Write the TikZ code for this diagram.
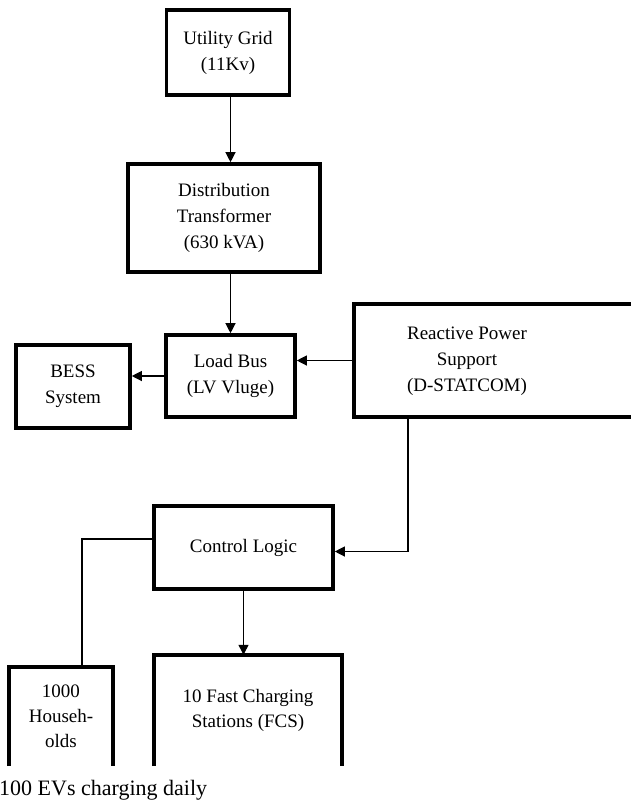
\documentclass[tikz,border=0pt]{standalone}
\usepackage{fontspec}
\setmainfont{Liberation Serif}
\usepackage{tikz}
\usetikzlibrary{arrows.meta}

\begin{document}
\begin{tikzpicture}
  [x=1pt,y=-1pt,
   box/.style={draw,line width=3.6pt,align=center,inner sep=0pt,
     font=\fontsize{19}{26}\selectfont},
   openbox/.style={align=center,inner sep=0pt,
     font=\fontsize{19}{25}\selectfont},
   arr/.style={line width=1.2pt,-{Triangle[length=10pt,width=10pt]}},
   wire/.style={line width=1.2pt}]
\useasboundingbox (0,0) rectangle (631,801);

\node [box,minimum width=123pt,minimum height=85pt]  (grid)    at (228,52.5)  {Utility Grid\\(11Kv)};
\node [box,minimum width=192pt,minimum height=108pt] (trafo)   at (224,218)   {Distribution\\Transformer\\(630 kVA)};
\node [box,minimum width=129pt,minimum height=82pt]  (bus)     at (230.5,376) {Load Bus\\(LV Vluge)};
\node [box,minimum width=114pt,minimum height=83pt]  (bess)    at (73,386.5)  {BESS\\System};
\node [box,minimum width=290pt,minimum height=113pt] (statcom) at (499,360.5) {};
\node [align=center,font=\fontsize{19}{26}\selectfont] (statcomtxt) at (467,361) {Reactive Power\\Support\\(D-STATCOM)};
\node [box,minimum width=179pt,minimum height=83pt]  (ctrl)    at (243.5,547.5) {Control Logic};
\node [openbox,minimum width=104pt,minimum height=99pt]  (hh)  at (61,716.5)  {1000\\Househ-\\olds};
\node [openbox,minimum width=188pt,minimum height=111pt] (fcs) at (248,710.5) {10 Fast Charging\\Stations (FCS)};
\node [anchor=base west,inner sep=0pt,font=\fontsize{22}{24}\selectfont] (evs) at (-1,795) {100 EVs charging daily};

% boxes cut off at the bottom
\draw [line width=3.6pt] (hh.south west) |- (hh.north east) -- (hh.south east);
\draw [line width=3.6pt] (fcs.south west) |- (fcs.north east) -- (fcs.south east);

\draw [arr] (grid.south -| bus) -- (trafo.north -| bus);
\draw [arr] (trafo.south -| bus) -- (bus);
\draw [arr] (bus.west) -- (bus.west -| bess.east);
\draw [arr] (statcom.west) -- (statcom.west -| bus.east);
\draw [arr] ([xshift=-91pt]statcom.south) |- ([yshift=-4pt]ctrl.east);
\draw [wire] ([yshift=8.5pt]ctrl.west) -| ([xshift=21pt]hh.north);
\draw [arr] (ctrl.south) -- (ctrl.south |- fcs.north);
\end{tikzpicture}
\end{document}
